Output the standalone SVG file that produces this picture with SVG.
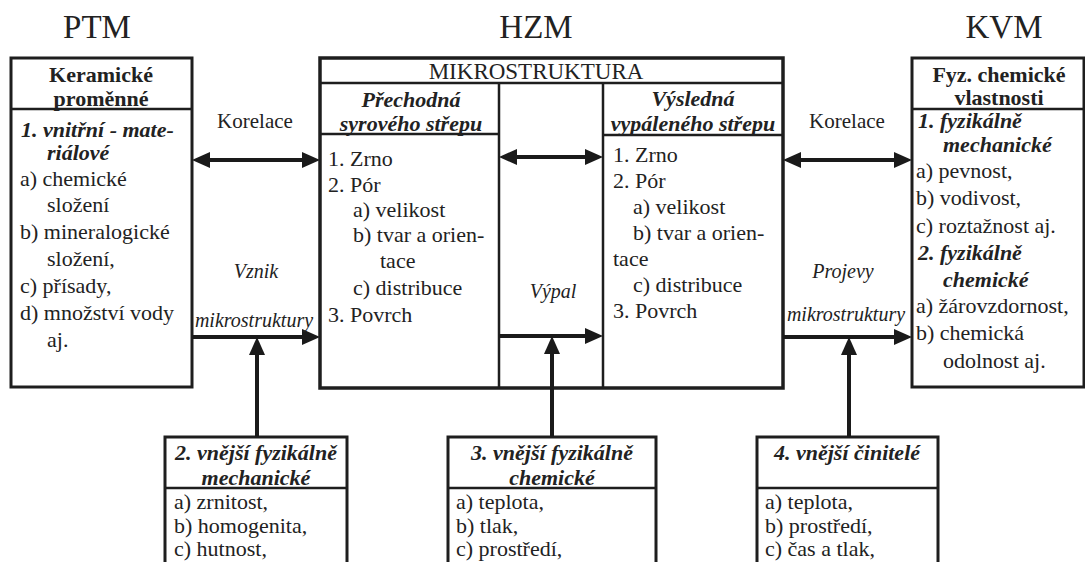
<svg xmlns="http://www.w3.org/2000/svg" width="1085" height="562" viewBox="0 0 1085 562">
<style>
text { font-family: "Liberation Serif", "Times New Roman", serif; font-size: 22px; fill: #222; }
.c { text-anchor: middle; }
.b { font-weight: bold; }
.bi { font-weight: bold; font-style: italic; }
.title { font-size: 33px; }
.hd { font-size: 23px; }
.lbl { font-size: 21px; }
.sm { font-size: 20px; font-style: italic; }
.box { fill: #fff; stroke: #1e1e1e; stroke-width: 3; }
.hbox { fill: #fff; stroke: #1e1e1e; stroke-width: 3.5; }
.dv { stroke: #1e1e1e; stroke-width: 2.5; fill: none; }
.cn { stroke: #1a1a1a; stroke-width: 4; fill: none; }
</style>
<defs>
<marker id="ah" viewBox="0 0 18 16" refX="8" refY="8" markerWidth="18" markerHeight="16" markerUnits="userSpaceOnUse" orient="auto-start-reverse">
<path d="M0,0 L18,8 L0,16 z" fill="#1a1a1a"/>
</marker>
</defs>
<rect width="1085" height="562" fill="#fff"/>

<g id="titles">
<text class="c title" x="97" y="38">PTM</text>
<text class="c title" x="536" y="38">HZM</text>
<text class="c title" x="1004" y="38">KVM</text>
</g>

<g id="ptm">
<rect class="box" x="11" y="58" width="181" height="329"/>
<line class="dv" x1="11" y1="109" x2="192" y2="109"/>
<text class="c b" x="101" y="82">Keramické</text>
<text class="c b" x="101" y="106">proměnné</text>
<text class="bi" x="21" y="137">1. vnitřní - mate-</text>
<text class="bi" x="47" y="160">riálové</text>
<text x="20" y="186">a) chemické</text>
<text x="47" y="212">složení</text>
<text x="20" y="239">b) mineralogické</text>
<text x="47" y="266">složení,</text>
<text x="20" y="293">c) přísady,</text>
<text x="20" y="320">d) množství vody</text>
<text x="47" y="347">aj.</text>
</g>

<g id="hzm">
<rect class="hbox" x="320" y="58" width="463" height="330"/>
<line class="dv" x1="320" y1="83" x2="783" y2="83"/>
<line class="dv" x1="499" y1="83" x2="499" y2="388"/>
<line class="dv" x1="603" y1="83" x2="603" y2="388"/>
<line class="dv" x1="320" y1="134" x2="499" y2="134"/>
<line class="dv" x1="603" y1="135" x2="783" y2="135"/>
<text class="c hd" x="536" y="79">MIKROSTRUKTURA</text>
<text class="c bi" x="411" y="107">Přechodná</text>
<text class="c bi" x="411" y="131">syrového střepu</text>
<text class="c bi" x="693" y="106">Výsledná</text>
<text class="c bi" x="693" y="131">vypáleného střepu</text>
<text x="328" y="166">1. Zrno</text>
<text x="328" y="192">2. Pór</text>
<text x="353" y="217">a) velikost</text>
<text x="353" y="242">b) tvar a orien-</text>
<text x="380" y="268">tace</text>
<text x="353" y="295">c) distribuce</text>
<text x="328" y="322">3. Povrch</text>
<text x="613" y="162">1. Zrno</text>
<text x="613" y="188">2. Pór</text>
<text x="633" y="214">a) velikost</text>
<text x="633" y="240">b) tvar a orien-</text>
<text x="613" y="266">tace</text>
<text x="633" y="292">c) distribuce</text>
<text x="613" y="318">3. Povrch</text>
</g>

<g id="kvm">
<rect class="box" x="912" y="58" width="172" height="329"/>
<line class="dv" x1="912" y1="109" x2="1084" y2="109"/>
<text class="c b" x="999" y="82">Fyz. chemické</text>
<text class="c b" x="999" y="105">vlastnosti</text>
<text class="bi" x="918" y="128">1. fyzikálně</text>
<text class="bi" x="943" y="152">mechanické</text>
<text x="916" y="178">a) pevnost,</text>
<text x="916" y="205">b) vodivost,</text>
<text x="916" y="233">c) roztažnost aj.</text>
<text class="bi" x="918" y="260">2. fyzikálně</text>
<text class="bi" x="943" y="287">chemické</text>
<text x="916" y="313">a) žárovzdornost,</text>
<text x="916" y="340">b) chemická</text>
<text x="943" y="368">odolnost aj.</text>
</g>

<g id="ext2">
<rect class="box" x="165" y="437" width="182" height="140"/>
<line class="dv" x1="165" y1="488" x2="347" y2="488"/>
<text class="c bi" x="256" y="460">2. vnější fyzikálně</text>
<text class="c bi" x="256" y="485">mechanické</text>
<text x="174" y="509">a) zrnitost,</text>
<text x="174" y="533">b) homogenita,</text>
<text x="174" y="556">c) hutnost,</text>
</g>

<g id="ext3">
<rect class="box" x="448" y="437" width="208" height="140"/>
<line class="dv" x1="448" y1="488" x2="656" y2="488"/>
<text class="c bi" x="552" y="460">3. vnější fyzikálně</text>
<text class="c bi" x="552" y="485">chemické</text>
<text x="456" y="509">a) teplota,</text>
<text x="456" y="533">b) tlak,</text>
<text x="456" y="556">c) prostředí,</text>
</g>

<g id="ext4">
<rect class="box" x="757" y="437" width="181" height="140"/>
<line class="dv" x1="757" y1="488" x2="938" y2="488"/>
<text class="c bi" x="847" y="460">4. vnější činitelé</text>
<text x="765" y="509">a) teplota,</text>
<text x="765" y="533">b) prostředí,</text>
<text x="765" y="556">c) čas a tlak,</text>
</g>

<g id="connectors">
<path class="cn" d="M202,160 H310" marker-start="url(#ah)" marker-end="url(#ah)"/>
<path class="cn" d="M192,337 H310" marker-end="url(#ah)"/>
<path class="cn" d="M257,437 V347" marker-end="url(#ah)"/>
<path class="cn" d="M509,157 H593" marker-start="url(#ah)" marker-end="url(#ah)"/>
<path class="cn" d="M499,336 H593" marker-end="url(#ah)"/>
<path class="cn" d="M552,437 V346" marker-end="url(#ah)"/>
<path class="cn" d="M793,160 H902" marker-start="url(#ah)" marker-end="url(#ah)"/>
<path class="cn" d="M783,337 H902" marker-end="url(#ah)"/>
<path class="cn" d="M849,437 V347" marker-end="url(#ah)"/>
<text class="c lbl" x="255" y="128">Korelace</text>
<text class="c lbl" x="847" y="128">Korelace</text>
<text class="c sm" x="256" y="278">Vznik</text>
<text class="c sm" x="254" y="327">mikrostruktury</text>
<text class="c sm" x="553" y="298">Výpal</text>
<text class="c sm" x="843" y="278">Projevy</text>
<text class="c sm" x="846" y="321">mikrostruktury</text>
</g>
</svg>
